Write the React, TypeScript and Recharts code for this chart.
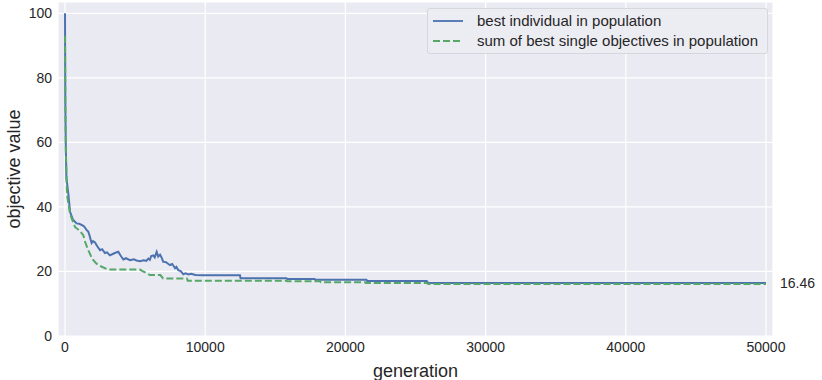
import React from 'react';
import {
  LineChart,
  Line,
  XAxis,
  YAxis,
  CartesianGrid,
  ReferenceDot,
} from 'recharts';

// best individual in population
const bestGen = [
  0, 20, 50, 100, 240, 360, 570, 830, 1000, 1190, 1350, 1550, 1650, 1740, 1820, 1900, 2000, 2140,
  2300, 2500, 2650, 2850, 3000, 3200, 3400, 3600, 3800, 3950, 4160, 4350, 4640, 4900, 5100, 5350,
  5600, 5800, 5940, 6050, 6150, 6300, 6400, 6540, 6650, 6780, 6900, 7010, 7200, 7350, 7490, 7650,
  7850, 7950, 8080, 8250, 8440, 8600, 8800, 9000, 9300, 9800, 12480, 12520, 15800, 15850, 17800,
  17850, 21500, 21550, 25800, 25900, 50000,
];
const bestVal = [
  100, 73, 60, 49, 44, 38.5, 36, 34.9, 34.8, 34.4, 34, 32.8, 32.4, 31.3, 30, 28.8, 29.4, 29, 27.8,
  26.6, 26.9, 25.7, 25.9, 25, 25.4, 25.8, 26.1, 25, 23.7, 24.1, 23.5, 23.8, 23.4, 23.2, 23.5, 23.3,
  24, 23.6, 24.8, 25, 24.4, 26.1, 24.6, 25.2, 24.2, 23, 22.9, 22.4, 22, 22.3, 21, 21.4, 20.4, 20.1,
  19.1, 19.4, 19.1, 19.3, 18.9, 18.8, 18.8, 17.9, 17.9, 17.7, 17.7, 17.4, 17.4, 17.08, 17.08, 16.46,
  16.46,
];

// sum of best single objectives in population
const sumGen = [
  0, 30, 60, 140, 240, 360, 470, 710, 1000, 1300, 1430, 1660, 1850, 2020, 2250, 2500, 3070, 5350,
  5500, 6060, 6800, 7000, 8700, 8750, 15800, 15850, 18200, 18250, 21400, 21450, 25800, 25900, 50000,
];
const sumVal = [
  93, 70, 57, 44, 41, 38, 36.5, 33.8, 32.8, 31.3, 29.2, 26.6, 24.8, 23.5, 22.4, 21.7, 20.6, 20.6,
  20.2, 18.9, 18.9, 17.85, 17.8, 17.15, 17.15, 16.95, 16.95, 16.65, 16.65, 16.46, 16.46, 16.15,
  16.15,
];

const xTicks = [0, 10000, 20000, 30000, 40000, 50000];
const yTicks = [0, 20, 40, 60, 80, 100];

const bestData = bestGen.map((g, i) => ({ gen: g, value: bestVal[i] }));
const sumData = sumGen.map((g, i) => ({ gen: g, value: sumVal[i] }));
const finalBest = bestVal[bestVal.length - 1];

const BLUE = '#4C72B0';
const GREEN = '#55A868';
const TEXT = '#262626';
const FONT = '"Liberation Sans", Arial, sans-serif';

const LegendBox = () => (
  <div
    style={{
      position: 'absolute',
      left: 427,
      top: 8,
      width: 341,
      height: 46,
      boxSizing: 'border-box',
      background: 'rgba(236,236,243,0.9)',
      border: '1px solid #d6d6de',
      borderRadius: 3,
      padding: '2px 0 0 4px',
      fontFamily: FONT,
      fontSize: 15,
      color: TEXT,
      lineHeight: '20px',
    }}
  >
    <div style={{ display: 'flex', alignItems: 'center' }}>
      <svg width={45} height={20}>
        <line x1={1} y1={10} x2={31} y2={10} stroke={BLUE} strokeWidth={1.8} />
      </svg>
      <span>best individual in population</span>
    </div>
    <div style={{ display: 'flex', alignItems: 'center' }}>
      <svg width={45} height={20}>
        <line x1={1} y1={10} x2={31} y2={10} stroke={GREEN} strokeWidth={1.8} strokeDasharray="7 3" />
      </svg>
      <span>sum of best single objectives in population</span>
    </div>
  </div>
);

export default function App() {
  return (
    <div style={{ position: 'absolute', left: 0, top: 0, width: 822, height: 380, background: '#fff' }}>
      <LineChart width={822} height={380} margin={{ top: 2, right: 49, left: 0, bottom: 0 }}>
        <CartesianGrid fill="#EAEAF2" stroke="#ffffff" strokeWidth={1.2} />
        <XAxis
          type="number"
          dataKey="gen"
          domain={[-500, 50500]}
          ticks={xTicks}
          allowDataOverflow
          axisLine={false}
          tickLine={false}
          tickSize={0}
          tickMargin={6}
          height={44}
          tick={{ fill: TEXT, fontSize: 14, fontFamily: FONT }}
          label={{
            value: 'generation',
            position: 'insideBottom',
            offset: 3,
            fill: TEXT,
            fontSize: 18,
            fontFamily: FONT,
          }}
        />
        <YAxis
          type="number"
          domain={[0, 103.5]}
          ticks={yTicks}
          allowDataOverflow
          axisLine={false}
          tickLine={false}
          tickSize={0}
          tickMargin={6}
          width={58}
          tick={{ fill: TEXT, fontSize: 14, fontFamily: FONT }}
          label={{
            value: 'objective value',
            angle: -90,
            position: 'insideLeft',
            offset: 14,
            fill: TEXT,
            fontSize: 18,
            fontFamily: FONT,
            style: { textAnchor: 'middle' },
          }}
        />
        <Line
          data={bestData}
          dataKey="value"
          type="linear"
          stroke={BLUE}
          strokeWidth={2}
          dot={false}
          isAnimationActive={false}
        />
        <Line
          data={sumData}
          dataKey="value"
          type="linear"
          stroke={GREEN}
          strokeWidth={2}
          strokeDasharray="7 3"
          dot={false}
          isAnimationActive={false}
        />
        <ReferenceDot
          x={50000}
          y={finalBest}
          r={0}
          ifOverflow="visible"
          label={{
            value: finalBest.toFixed(2),
            position: 'right',
            offset: 14,
            fill: TEXT,
            fontSize: 14,
            fontFamily: FONT,
          }}
        />
      </LineChart>
      <LegendBox />
    </div>
  );
}
